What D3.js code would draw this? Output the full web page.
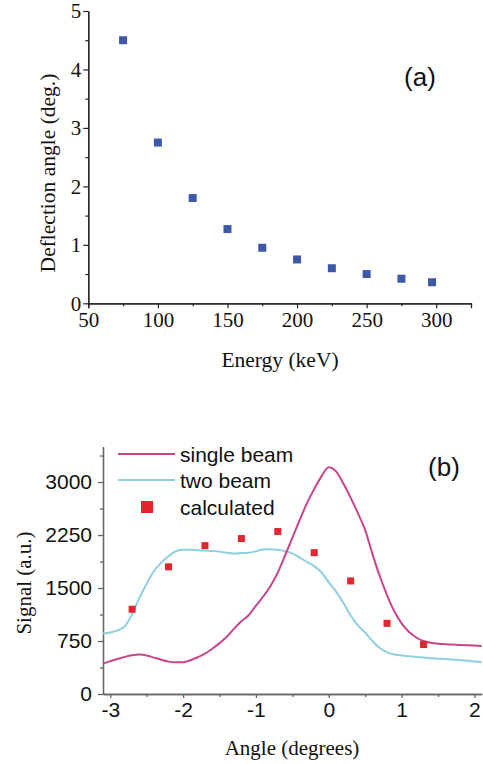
<!DOCTYPE html>
<html>
  <head>
    <meta charset="utf-8">
    <script src="https://d3js.org/d3.v7.min.js"></script>
    <style>
      body { margin: 0px; background: #fff; }
      svg { display: block; }
      .serif { font-family: 'Liberation Serif', 'Times New Roman', serif; fill: #111; }
      .sans { font-family: 'Liberation Sans', Arial, sans-serif; fill: #111; }
    </style>
  </head>
  <body>
    <svg width="483" height="764"></svg>
    <script>
      // panel (a): deflection angle vs energy
      const energy = [75, 100, 125, 150, 175, 200, 225, 250, 275, 297];
      const deflection = [4.5, 2.75, 1.8, 1.27, 0.95, 0.75, 0.6, 0.5, 0.42, 0.36];
      const aXTicks = [50, 100, 150, 200, 250, 300];
      const aYTicks = [0, 1, 2, 3, 4, 5];

      // panel (b): signal vs angle
      const angle = [-3.1, -3.0, -2.9, -2.8, -2.7, -2.6, -2.5, -2.4, -2.3, -2.2, -2.1,
        -2.0, -1.9, -1.8, -1.7, -1.6, -1.5, -1.4, -1.3, -1.2, -1.1,
        -1.0, -0.9, -0.8, -0.7, -0.6, -0.5, -0.4, -0.3, -0.2, -0.1,
        0.0, 0.1, 0.2, 0.3, 0.4, 0.5, 0.6, 0.7, 0.8, 0.9,
        1.0, 1.1, 1.2, 1.3, 1.4, 1.5, 1.6, 1.7, 1.8, 1.9, 2.0, 2.1];
      const singleBeam = [430, 465, 495, 525, 548, 558, 545, 515, 485, 458, 448,
        450, 478, 520, 570, 640, 720, 810, 925, 1030, 1115,
        1250, 1380, 1530, 1720, 1960, 2210, 2460, 2700, 2900, 3080,
        3210, 3150, 2980, 2780, 2560, 2320, 1980, 1670, 1400, 1170,
        1000, 880, 800, 750, 725, 712, 705, 700, 695, 690, 685, 678];
      const twoBeam = [855, 870, 900, 960, 1130, 1360, 1560, 1740, 1860, 1950, 2020,
        2040, 2040, 2035, 2030, 2025, 2015, 2000, 1990, 1995, 2000,
        2020, 2045, 2050, 2040, 2020, 1990, 1930, 1870, 1810, 1720,
        1580, 1450, 1290, 1110, 970, 870, 750, 650, 590, 560,
        545, 535, 525, 515, 505, 500, 495, 490, 480, 470, 460, 450];
      const calcAngle = [-2.7, -2.2, -1.7, -1.2, -0.7, -0.2, 0.3, 0.8, 1.3];
      const calcSignal = [1200, 1800, 2100, 2200, 2300, 2000, 1600, 1000, 700];
      const bXTicks = [-3, -2, -1, 0, 1, 2];
      const bYTicks = [0, 750, 1500, 2250, 3000];
      const legendLabels = ['single beam', 'two beam', 'calculated'];

      const svg = d3.select('svg');

      // ---------- panel (a) ----------
      const ax = d3.scaleLinear().domain([50, 325]).range([88.3, 471]);
      const ay = d3.scaleLinear().domain([0, 5]).range([303.3, 11]);

      const gA = svg.append('g');

      const axMinor = d3.axisBottom(ax).tickValues(d3.range(75, 325, 50)).tickSize(3).tickFormat('');
      gA.append('g').attr('transform', 'translate(0,303.3)').call(axMinor);
      const axMajor = d3.axisBottom(ax).tickValues(aXTicks).tickSize(5).tickPadding(4)
          .tickFormat(d => String(d));
      const axG = gA.append('g').attr('transform', 'translate(0,303.3)').call(axMajor);
      axG.selectAll('text').attr('class', 'serif').style('font-size', '21px');

      const ayMinor = d3.axisLeft(ay).tickValues(d3.range(0.5, 5, 1)).tickSize(3).tickFormat('')
          .tickSizeOuter(0);
      gA.append('g').attr('transform', 'translate(88.3,0)').call(ayMinor);
      const ayMajor = d3.axisLeft(ay).tickValues(aYTicks).tickSize(5).tickPadding(2)
          .tickSizeOuter(0).tickFormat(d => String(d));
      const ayG = gA.append('g').attr('transform', 'translate(88.3,0)').call(ayMajor);
      ayG.selectAll('text').attr('class', 'serif').style('font-size', '21px');

      gA.selectAll('.domain, .tick line').attr('stroke', '#222').attr('stroke-width', 1.2);

      gA.selectAll('rect.pt').data(energy).enter().append('rect')
          .attr('class', 'pt')
          .attr('x', (d, i) => ax(d) - 4)
          .attr('y', (d, i) => ay(deflection[i]) - 4)
          .attr('width', 8)
          .attr('height', 8)
          .attr('fill', '#3f57a7');

      gA.append('text').attr('class', 'serif')
          .attr('x', 280).attr('y', 367)
          .attr('text-anchor', 'middle')
          .style('font-size', '21.5px')
          .text('Energy (keV)');
      gA.append('text').attr('class', 'serif')
          .attr('transform', 'translate(55,173) rotate(-90)')
          .attr('text-anchor', 'middle')
          .style('font-size', '21.5px')
          .text('Deflection angle (deg.)');
      gA.append('text').attr('class', 'sans')
          .attr('x', 420).attr('y', 86)
          .attr('text-anchor', 'middle')
          .style('font-size', '26px')
          .text('(a)');

      // ---------- panel (b) ----------
      const bx = d3.scaleLinear().domain([-3.1, 2.1]).range([103, 481.7]);
      const by = d3.scaleLinear().domain([0, 3500]).range([694, 446.7]);

      const gB = svg.append('g');

      const bxMinor = d3.axisBottom(bx).tickValues(d3.range(-2.5, 2.1, 1)).tickSize(3).tickFormat('')
          .tickSizeOuter(0);
      gB.append('g').attr('transform', 'translate(0,694)').call(bxMinor);
      const bxMajor = d3.axisBottom(bx).tickValues(bXTicks).tickSize(4).tickPadding(4)
          .tickSizeOuter(0).tickFormat(d => String(d));
      const bxG = gB.append('g').attr('transform', 'translate(0,694)').call(bxMajor);
      bxG.selectAll('text').attr('class', 'sans').style('font-size', '21px');

      const byMinor = d3.axisLeft(by).tickValues(d3.range(375, 3500, 750)).tickSize(3).tickFormat('')
          .tickSizeOuter(0);
      gB.append('g').attr('transform', 'translate(103,0)').call(byMinor);
      const byMajor = d3.axisLeft(by).tickValues(bYTicks).tickSize(5).tickPadding(6)
          .tickSizeOuter(0).tickFormat(d => String(d));
      const byG = gB.append('g').attr('transform', 'translate(103,0)').call(byMajor);
      byG.selectAll('text').attr('class', 'sans').style('font-size', '21px');

      gB.selectAll('.domain, .tick line').attr('stroke', '#666').attr('stroke-width', 1.3);

      const lineB = d3.line().x((d, i) => bx(angle[i])).y(d => by(d)).curve(d3.curveMonotoneX);

      gB.append('path').datum(twoBeam)
          .attr('d', lineB)
          .attr('fill', 'none')
          .attr('stroke', '#8fcfe2')
          .attr('stroke-width', 2);
      gB.append('path').datum(singleBeam)
          .attr('d', lineB)
          .attr('fill', 'none')
          .attr('stroke', '#c9448c')
          .attr('stroke-width', 2);

      gB.selectAll('rect.calc').data(calcAngle).enter().append('rect')
          .attr('class', 'calc')
          .attr('x', d => bx(d) - 3.5)
          .attr('y', (d, i) => by(calcSignal[i]) - 3.5)
          .attr('width', 7)
          .attr('height', 7)
          .attr('fill', '#e3262d');

      // legend
      const leg = gB.append('g');
      const legY = [454, 480, 507];
      leg.append('line').attr('x1', 118).attr('x2', 175).attr('y1', legY[0]).attr('y2', legY[0])
          .attr('stroke', '#c9448c').attr('stroke-width', 2);
      leg.append('line').attr('x1', 118).attr('x2', 175).attr('y1', legY[1]).attr('y2', legY[1])
          .attr('stroke', '#8fcfe2').attr('stroke-width', 2);
      leg.append('rect').attr('x', 141).attr('y', legY[2] - 6).attr('width', 12).attr('height', 12)
          .attr('fill', '#e3262d');
      leg.selectAll('text').data(legendLabels).enter().append('text')
          .attr('class', 'sans')
          .attr('x', 180)
          .attr('y', (d, i) => legY[i] + 7.5)
          .style('font-size', '21px')
          .text(d => d);

      gB.append('text').attr('class', 'sans')
          .attr('x', 444).attr('y', 476)
          .attr('text-anchor', 'middle')
          .style('font-size', '26px')
          .text('(b)');
      gB.append('text').attr('class', 'serif')
          .attr('x', 292).attr('y', 755)
          .attr('text-anchor', 'middle')
          .style('font-size', '21px')
          .text('Angle (degrees)');
      gB.append('text').attr('class', 'serif')
          .attr('transform', 'translate(31,583) rotate(-90)')
          .attr('text-anchor', 'middle')
          .style('font-size', '21px')
          .text('Signal (a.u.)');
    </script>
  </body>
</html>
